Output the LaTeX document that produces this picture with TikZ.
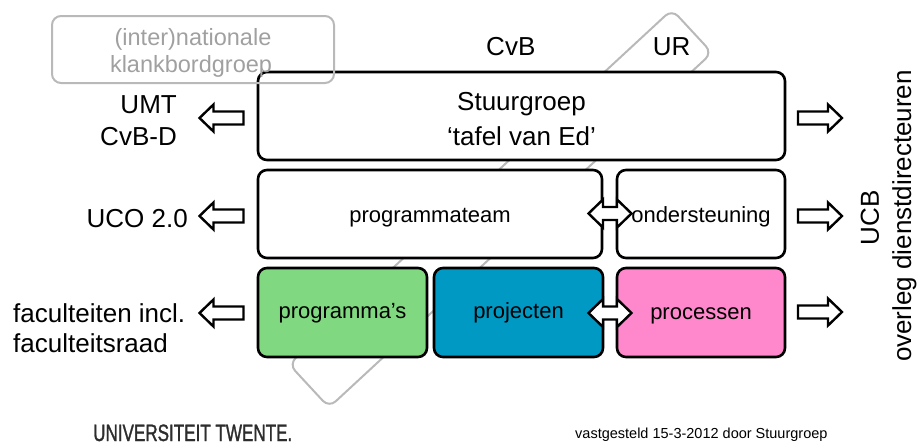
\documentclass[tikz,border=0pt]{standalone}
\usepackage{fontspec}
\setmainfont{Liberation Sans}
\newfontfamily\logofont[FakeStretch=0.72,FakeBold=1.2]{Liberation Sans}
\definecolor{boxgreen}{RGB}{128,216,128}
\definecolor{boxblue}{RGB}{0,153,196}
\definecolor{boxpink}{RGB}{255,136,204}
\definecolor{ghostgray}{RGB}{185,185,185}
\definecolor{ghosttext}{RGB}{160,160,160}
\definecolor{logogray}{RGB}{45,45,45}
\tikzset{
  bigtxt/.style={font=\fontsize{26}{30}\selectfont, inner sep=0pt},
  midtxt/.style={font=\fontsize{22}{26}\selectfont, inner sep=0pt},
  mainbox/.style={draw=black, line width=2.6pt, rounded corners=9pt},
  ghostbox/.style={draw=ghostgray, line width=2pt, rounded corners=9pt},
  arrowline/.style={draw=black, fill=white, line width=2.4pt, line join=miter},
  rblock/.pic={\draw[arrowline] (-22,-6.5) -- (8,-6.5) -- (8,-13.5) -- (22,0) -- (8,13.5) -- (8,6.5) -- (-22,6.5) -- cycle;},
  lblock/.pic={\draw[arrowline] (22,-6.5) -- (-8,-6.5) -- (-8,-13.5) -- (-22,0) -- (-8,13.5) -- (-8,6.5) -- (22,6.5) -- cycle;},
  dblock/.pic={\draw[arrowline] (-21.5,0) -- (-7,-14) -- (-7,-6.5) -- (7,-6.5) -- (7,-14) -- (21.5,0) -- (7,14) -- (7,6.5) -- (-7,6.5) -- (-7,14) -- cycle;}
}
\begin{document}
\begin{tikzpicture}[x=1pt,y=-1pt]
\useasboundingbox (0,0) rectangle (917,445);
% background rotated gray rounded rectangle
\node[ghostbox, minimum width=522pt, minimum height=59pt, rotate=42.8] (ghost) at (500.5,208.5) {};
% main boxes
\draw[mainbox, fill=white] (258,72) rectangle (785,160) coordinate (sgse);
\coordinate (sg) at (521.5,116);
\draw[mainbox, fill=white] (258,170) rectangle (602,258);
\coordinate (pt) at (430,214);
\draw[mainbox, fill=white] (617,170) rectangle (785,258);
\coordinate (os) at (701,214);
\draw[mainbox, fill=boxgreen] (258,268) rectangle (427,357);
\coordinate (pg) at (342.5,312.5);
\draw[mainbox, fill=boxblue] (434,268) rectangle (603,357);
\coordinate (pj) at (518.5,312.5);
\draw[mainbox, fill=boxpink] (617,268) rectangle (785,357);
\coordinate (pc) at (701,312.5);
% klankbordgroep box
\draw[ghostbox] (52,16) rectangle (334,83);
\node[font=\fontsize{23.5}{27}\selectfont, inner sep=0pt, text=ghosttext, anchor=base] (kb1) at (193,45) {(inter)nationale};
\node[font=\fontsize{23.5}{27}\selectfont, inner sep=0pt, text=ghosttext, anchor=base] (kb2) at (191,72) {klankbordgroep};
% texts in boxes
\node[bigtxt, anchor=base] (sg1) at (521.5,110) {Stuurgroep};
\node[bigtxt, anchor=base] (sg2) at (521.5,145) {‘tafel van Ed’};
\node[midtxt, anchor=base] (ptt) at (430,222) {programmateam};
\node[midtxt, anchor=base] (ost) at (701,222) {ondersteuning};
\node[midtxt, anchor=base] (pgt) at (342.5,318) {programma’s};
\node[midtxt, anchor=base] (pjt) at (518.5,318) {projecten};
\node[midtxt, anchor=base] (pct) at (701,319) {processen};
% top labels
\node[bigtxt, anchor=base] (cvb) at (510.8,55) {CvB};
\node[bigtxt, anchor=base] (ur) at (671.7,55) {UR};
% left labels
\node[bigtxt, anchor=base east] (umt) at (177,113) {UMT};
\node[bigtxt, anchor=base east] (cvbd) at (177,145) {CvB-D};
\node[bigtxt, anchor=base east] (uco) at (188,227) {UCO 2.0};
\node[bigtxt, anchor=base west] (fac1) at (13,322) {faculteiten incl.};
\node[bigtxt, anchor=base west] (fac2) at (13,352) {faculteitsraad};
% right labels
\node[bigtxt, rotate=90] (ucb) at (870,218) {UCB};
\node[bigtxt, rotate=90] (odd) at (904.5,216) {overleg dienstdirecteuren};
% block arrows
\coordinate (la1) at (221.5,118);
\coordinate (la2) at (221.5,216);
\coordinate (la3) at (221.5,313);
\coordinate (ra1) at (820,118);
\coordinate (ra2) at (820,216);
\coordinate (ra3) at (820,312);
\coordinate (da1) at (610,213.5);
\coordinate (da2) at (610,313);
\pic at (la1) {lblock};
\pic at (la2) {lblock};
\pic at (la3) {lblock};
\pic at (ra1) {rblock};
\pic at (ra2) {rblock};
\pic at (ra3) {rblock};
\pic at (da1) {dblock};
\pic at (da2) {dblock};
% footer
\node[font=\logofont\fontsize{23.7}{26}\selectfont, text=logogray, inner sep=0pt, anchor=base west] (logo) at (93,441) {UNIVERSITEIT TWENTE.};
\node[font=\fontsize{14.5}{17}\selectfont, inner sep=0pt, anchor=base west] (vast) at (575,438) {vastgesteld 15-3-2012 door Stuurgroep};
\end{tikzpicture}
\end{document}
